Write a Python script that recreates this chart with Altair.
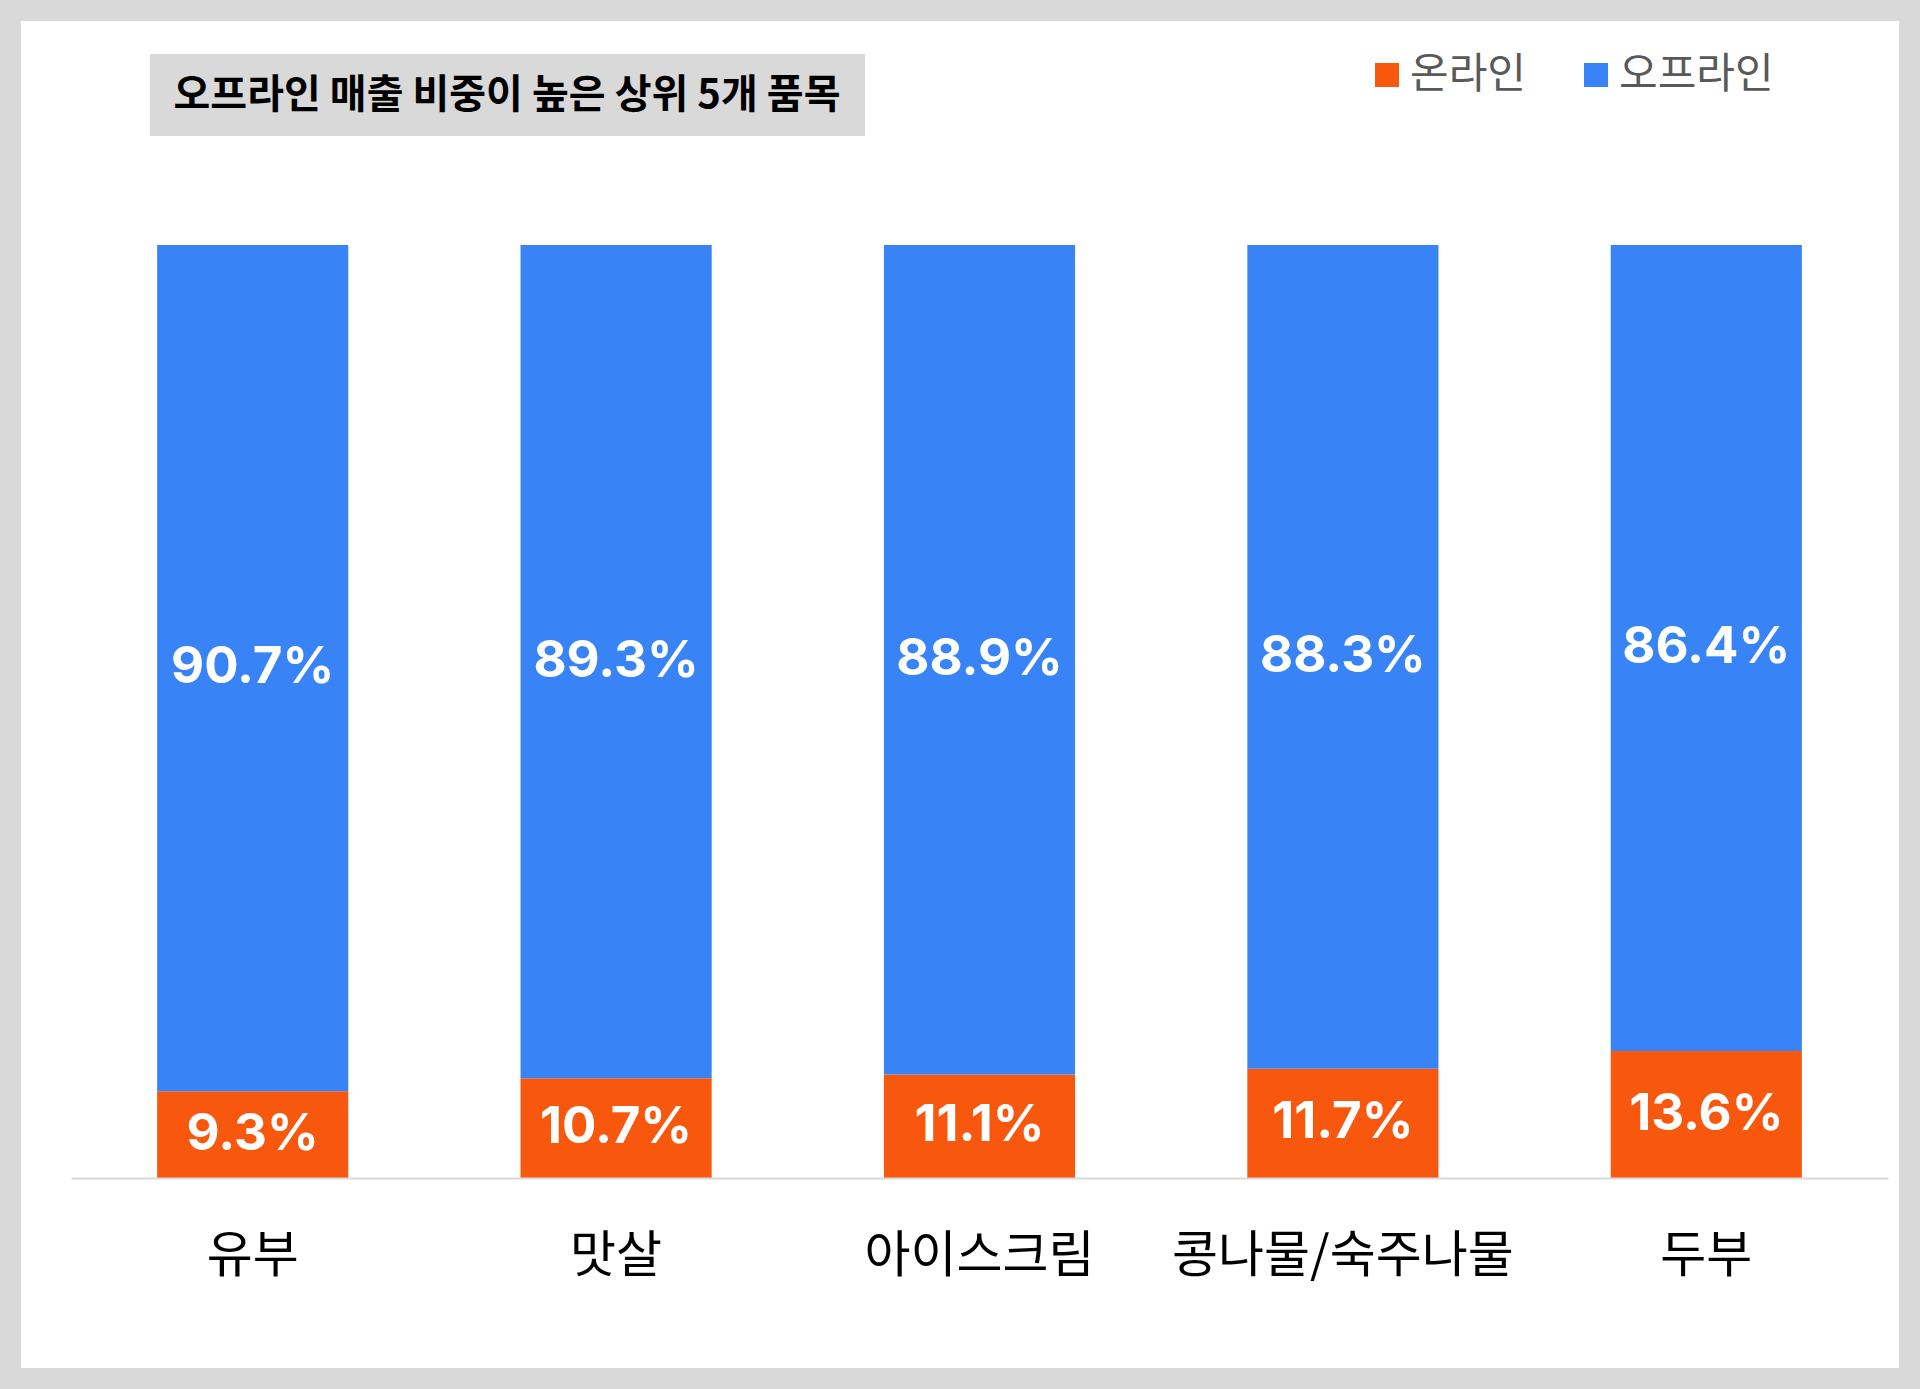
import altair as alt
import pandas as pd

items = ["유부", "맛살", "아이스크림", "콩나물/숙주나물", "두부"]
online = [9.3, 10.7, 11.1, 11.7, 13.6]
offline = [90.7, 89.3, 88.9, 88.3, 86.4]
channels = ["온라인", "오프라인"]
colors = ["#F8570E", "#3884F7"]
title_text = "오프라인 매출 비중이 높은 상위 5개 품목"

rows = []
for i, it in enumerate(items):
    rows.append({"item": it, "channel": channels[0], "value": online[i], "order": 0})
    rows.append({"item": it, "channel": channels[1], "value": offline[i], "order": 1})
df = pd.DataFrame(rows)

W, H = 1817, 933
PL, PT = 71, 245
KR = "Noto Sans CJK KR"

xenc = alt.X(
    "item:N", sort=items,
    scale=alt.Scale(paddingInner=0.474, paddingOuter=0.237),
    axis=alt.Axis(title=None, labelAngle=0, labelFontSize=50, labelFont=KR,
                  labelColor="#000000", labelPadding=53, labelLimit=0, ticks=False, tickSize=0,
                  domainColor="#d9d9d9", domainWidth=2, grid=False, zindex=1),
)

one = pd.DataFrame({"k": [0]})

panel = alt.Chart(one).mark_rect(color="#ffffff").encode(
    x=alt.value(21 - PL), x2=alt.value(1899 - PL),
    y=alt.value(21 - PT), y2=alt.value(1368 - PT),
)

tbox = alt.Chart(one).mark_rect(color="#d9d9d9").encode(
    x=alt.value(150 - PL), x2=alt.value(865 - PL),
    y=alt.value(54 - PT), y2=alt.value(136 - PT),
)

ttext = alt.Chart(one).mark_text(
    text=title_text, font=KR, fontSize=40, fontWeight="bold", color="#000000",
    align="center", baseline="middle",
).encode(x=alt.value(507 - PL), y=alt.value(96 - PT))

bars = alt.Chart(df).mark_bar().encode(
    x=xenc,
    y=alt.Y("value:Q", stack="zero", scale=alt.Scale(domain=[0, 100]), axis=None),
    color=alt.Color(
        "channel:N",
        scale=alt.Scale(domain=channels, range=colors),
        legend=alt.Legend(
            title=None, orient="none", legendX=1366 - PL, legendY=54 - PT,
            direction="horizontal", symbolType="square", symbolSize=576,
            symbolStrokeWidth=0, labelFontSize=42, labelFont=KR,
            labelColor="#595959", labelOffset=2, columnPadding=49, padding=0,
        ),
    ),
    order=alt.Order("order:Q"),
)

labels = alt.Chart(df).transform_stack(
    stack="value", groupby=["item"], as_=["v0", "v1"],
    sort=[alt.SortField("order", order="ascending")],
).transform_calculate(
    mid="(datum.v0 + datum.v1) / 2",
    label="format(datum.value, '.1f') + '%'",
).mark_text(
    font="Inter", fontSize=51, fontWeight="bold", color="#ffffff",
    align="center", baseline="middle",
).encode(
    x=alt.X("item:N", sort=items),
    y=alt.Y("mid:Q"),
    text="label:N",
)

chart = alt.layer(panel, tbox, ttext, bars, labels).properties(
    width=W, height=H,
    autosize=alt.AutoSizeParams(type="none"),
    padding={"left": PL, "top": PT, "right": 1920 - PL - W, "bottom": 1389 - PT - H},
    background="#d9d9d9",
).configure_view(stroke=None)

chart.save("out.html", embed_options={"renderer": "svg", "actions": False})
